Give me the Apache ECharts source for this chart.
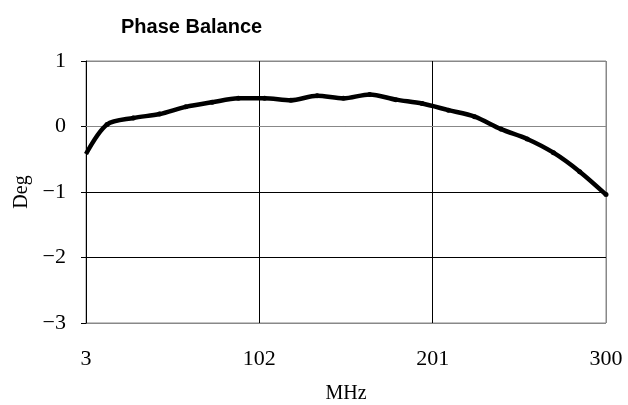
<!DOCTYPE html>
<html>
<head>
<meta charset="utf-8">
<script src="https://cdn.jsdelivr.net/npm/echarts@6/dist/echarts.min.js"></script>
<style>
  html, body { margin: 0; padding: 0; background: #fff; }
  #chart { width: 628px; height: 405px; }
</style>
</head>
<body>
<div id="chart"></div>
<script>
// frequency (MHz) and phase balance (deg)
const freqs = [3, 15, 30, 45, 60, 75, 90, 105, 120, 135, 150, 165, 180, 195, 210, 225, 240, 255, 270, 285, 300];
const phase = [-0.42, 0.03, 0.13, 0.19, 0.30, 0.37, 0.43, 0.43, 0.40, 0.47, 0.43, 0.49, 0.41, 0.35, 0.25, 0.15, -0.04, -0.19, -0.40, -0.69, -1.04];

const serif = "'Liberation Serif', 'DejaVu Serif', serif";

const chart = echarts.init(document.getElementById("chart"));

chart.setOption({
  animation: false,
  backgroundColor: "#fff",
  title: {
    text: "Phase Balance",
    left: 116,
    top: 12,
    textStyle: { fontFamily: "'Liberation Sans', Arial, sans-serif", fontWeight: "bold", fontSize: 20, color: "#000" },
  },
  grid: {
    left: 86, right: 22, top: 61, bottom: 82,
    outerBoundsMode: "none",
    show: true, borderColor: "#888", borderWidth: 1,
  },
  xAxis: {
    type: "value",
    min: 3,
    max: 300,
    interval: 99,
    name: "MHz",
    nameLocation: "middle",
    nameGap: 61,
    nameTextStyle: { fontFamily: serif, fontSize: 20, color: "#000" },
    axisLine: { show: true, lineStyle: { color: "#888", width: 1 } },
    axisTick: { show: false },
    axisLabel: { fontFamily: serif, fontSize: 22, color: "#000", margin: 25, showMinLabel: true, showMaxLabel: true },
    splitLine: { show: true, lineStyle: { color: ["#000", "#000", "#000", "#888"], width: 1 } },
  },
  yAxis: {
    type: "value",
    min: -3,
    max: 1,
    interval: 1,
    name: "Deg",
    nameLocation: "middle",
    nameRotate: 90,
    nameGap: 54,
    nameTextStyle: { fontFamily: serif, fontSize: 20, color: "#000" },
    axisLine: { show: true, lineStyle: { color: "#000", width: 1 } },
    axisTick: { show: true, inside: false, length: 5, lineStyle: { color: "#000" } },
    axisLabel: {
      fontFamily: serif, fontSize: 22, color: "#000", margin: 20,
      formatter: (v) => String(v).replace("-", "\u2212"),
    },
    splitLine: { show: true, lineStyle: { color: ["#888", "#000", "#000", "#000", "#888"], width: 1 } },
  },
  series: [
    {
      type: "line",
      data: freqs.map((f, i) => [f, phase[i]]),
      smooth: 0.3,
      symbol: "circle",
      symbolSize: (val, p) => (p.dataIndex === 0 ? 0 : 5),
      itemStyle: { color: "#000" },
      lineStyle: { color: "#000", width: 4.5 },
    },
  ],
});
</script>
</body>
</html>
